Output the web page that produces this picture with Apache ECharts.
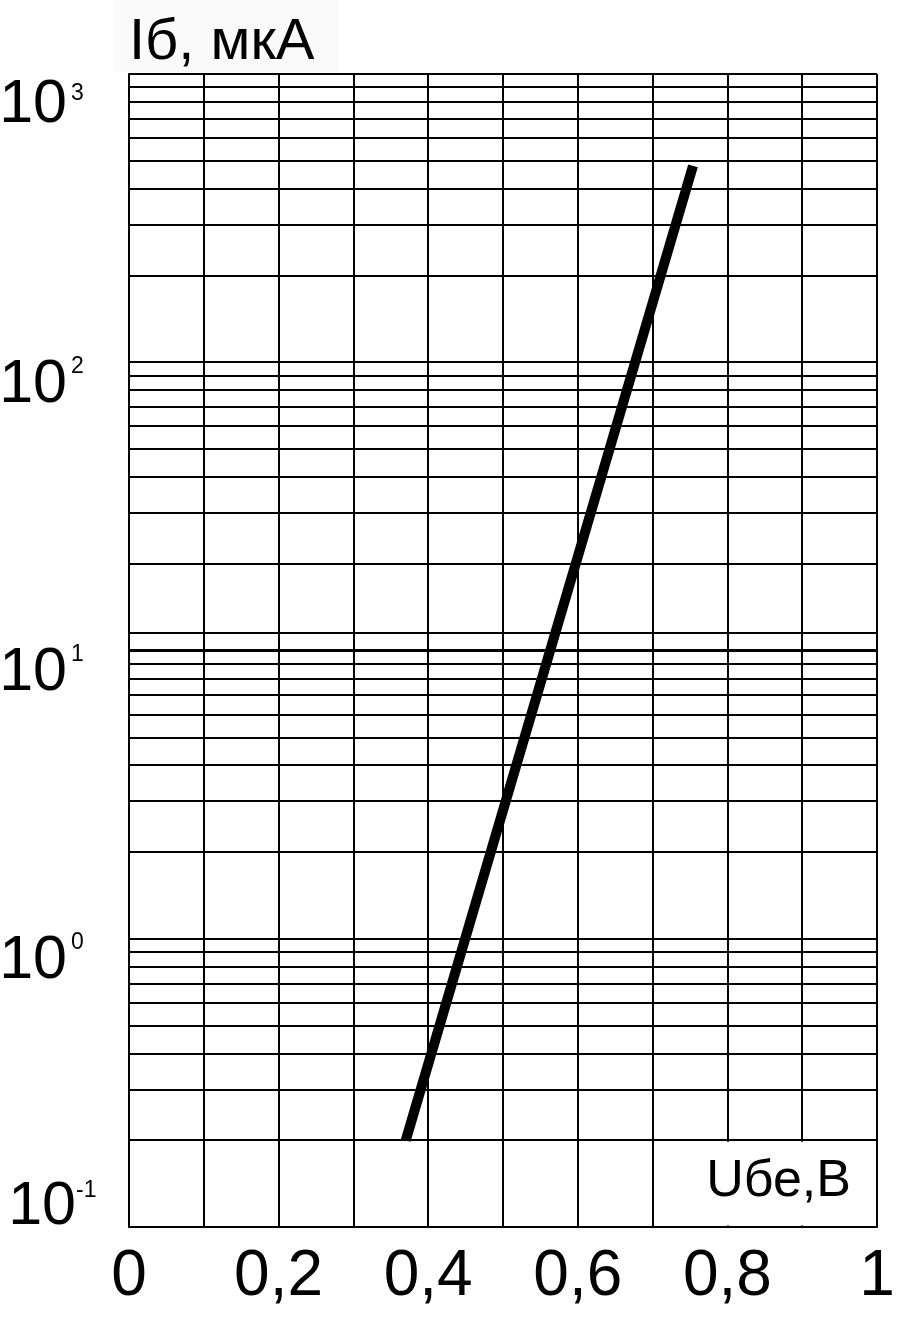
<!DOCTYPE html>
<html>
<head>
<meta charset="utf-8">
<script src="https://cdn.jsdelivr.net/npm/echarts@6/dist/echarts.min.js"></script>
<style>
html,body{margin:0;padding:0;background:#fff;}
#c{width:898px;height:1328px;}
</style>
</head>
<body>
<div id="c"></div>
<script>
// ---- data ----
const xLabelValues = [0, 0.2, 0.4, 0.6, 0.8, 1];
const xLabelTexts = ['0', '0,2', '0,4', '0,6', '0,8', '1'];
const yDecadeValues = [0.1, 1, 10, 100, 1000];
const yExponentLabels = ['-1', '0', '1', '2', '3'];
const minorMultipliers = [2, 3, 4, 5, 6, 7, 8, 9];
const extraGridValues = [11.5];
const curveU = [0.370, 0.754];   // Uбе, В
const curveI = [0.2, 480];       // Iб, мкА

const FONT = "'Liberation Sans', Arial, Helvetica, sans-serif";
const chart = echarts.init(document.getElementById('c'), null, {renderer: 'canvas'});

const gridValues = [];
yDecadeValues.slice(0, -1).forEach(d => minorMultipliers.forEach(m => gridValues.push(+(d * m).toPrecision(6))));
extraGridValues.forEach(v => gridValues.push(v));

function expIndex(v) {
  const e = Math.round(Math.log10(v));
  return yDecadeValues.findIndex(d => Math.abs(Math.log10(d) - e) < 1e-6);
}
const LAST = yDecadeValues.length - 1;

const yCommon = {
  type: 'log', logBase: 10, min: 0.1, max: 1000, gridIndex: 0, position: 'left'
};
const hidden = {axisLine: {show: false}, axisTick: {show: false}, splitLine: {show: false}};
const bStyle = (lh) => ({fontFamily: FONT, fontSize: 61, lineHeight: lh, color: '#000'});
const sStyle = (lh) => ({fontFamily: FONT, fontSize: 23, lineHeight: lh, color: '#000'});

chart.setOption({
  animation: false,
  backgroundColor: '#fff',
  title: {
    text: 'Iб, мкА', left: 114, top: 0,
    padding: [18, 24, 0, 15],
    backgroundColor: '#fafafa',
    textStyle: {fontFamily: FONT, fontSize: 58, fontWeight: 'normal', color: '#000', lineHeight: 50}
  },
  grid: {left: 129, right: 21, top: 74, bottom: 101, containLabel: false, outerBoundsMode: 'none'},
  xAxis: {
    type: 'value', min: 0, max: 1, interval: 0.1,
    axisLine: {show: true, lineStyle: {color: '#000', width: 2}},
    axisTick: {show: false},
    splitLine: {show: true, lineStyle: {color: '#000', width: 2}},
    axisLabel: {
      margin: 18, color: '#000', fontFamily: FONT, fontSize: 64,
      formatter: v => {
        const i = xLabelValues.findIndex(t => Math.abs(t - v) < 1e-6);
        return i >= 0 ? xLabelTexts[i] : '';
      }
    }
  },
  yAxis: [
    // main axis: lines + mantissa "10" of the upper labels
    Object.assign({}, yCommon, {
      axisLine: {show: true, lineStyle: {color: '#000', width: 2}},
      axisTick: {show: false},
      splitLine: {show: true, lineStyle: {color: '#000', width: 2}},
      axisLabel: {
        margin: 62, align: 'right', verticalAlign: 'top', color: '#000',
        formatter: v => {
          const i = expIndex(v);
          if (i <= 0) return '';
          return i === LAST ? '{bt|10}' : '{b|10}';
        },
        rich: {b: bStyle(45), bt: bStyle(63)}
      }
    }),
    // exponents of the upper labels
    Object.assign({}, yCommon, hidden, {
      axisLabel: {
        margin: 58, align: 'left', verticalAlign: 'top', color: '#000',
        formatter: v => {
          const i = expIndex(v);
          if (i <= 0) return '';
          return (i === LAST ? '{st|' : '{s|') + yExponentLabels[i] + '}';
        },
        rich: {s: sStyle(8), st: sStyle(39)}
      }
    }),
    // mantissa of the lowest label (sits above its line)
    Object.assign({}, yCommon, hidden, {
      axisLabel: {
        margin: 53, align: 'right', verticalAlign: 'bottom', color: '#000',
        formatter: v => (expIndex(v) === 0 ? '{b|10}' : ''),
        rich: {b: bStyle(39)}
      }
    }),
    // exponent of the lowest label
    Object.assign({}, yCommon, hidden, {
      axisLabel: {
        margin: 53, align: 'left', verticalAlign: 'bottom', color: '#000',
        formatter: v => (expIndex(v) === 0 ? '{s|' + yExponentLabels[0] + '}' : ''),
        rich: {s: sStyle(73)}
      }
    })
  ],
  series: [
    {
      type: 'line', data: [], z: 1, silent: true,
      markLine: {
        silent: true, symbol: 'none', animation: false,
        label: {show: false},
        lineStyle: {color: '#000', width: 2, type: 'solid'},
        data: gridValues.map(v => ({yAxis: v}))
          .concat([{yAxis: yDecadeValues[2], lineStyle: {color: '#000', width: 3, type: 'solid'}}])
      }
    },
    {
      type: 'line', z: 5, showSymbol: false, silent: true,
      data: curveU.map((u, i) => [u, curveI[i]]),
      lineStyle: {color: '#000', width: 10, cap: 'butt'}
    }
  ]
});

// white label box for the x-axis name, positioned through the chart's scales
const p1 = chart.convertToPixel({gridIndex: 0}, [0.7, 0.2]);
const p2 = chart.convertToPixel({gridIndex: 0}, [1.0, 0.1]);
chart.setOption({
  graphic: [
    {
      type: 'rect', z: 100, silent: true,
      shape: {x: p1[0] + 1.5, y: p1[1] + 1.5, width: p2[0] - p1[0] - 3, height: p2[1] - p1[1] - 3},
      style: {fill: '#fff'}
    },
    {
      type: 'text', z: 101, silent: true,
      x: p2[0] - 26, y: (p1[1] + p2[1]) / 2 - 2,
      style: {text: 'Uбе,В', font: "52px 'Liberation Sans', Arial, sans-serif", fill: '#000',
              textAlign: 'right', textVerticalAlign: 'middle'}
    }
  ]
});
</script>
</body>
</html>
